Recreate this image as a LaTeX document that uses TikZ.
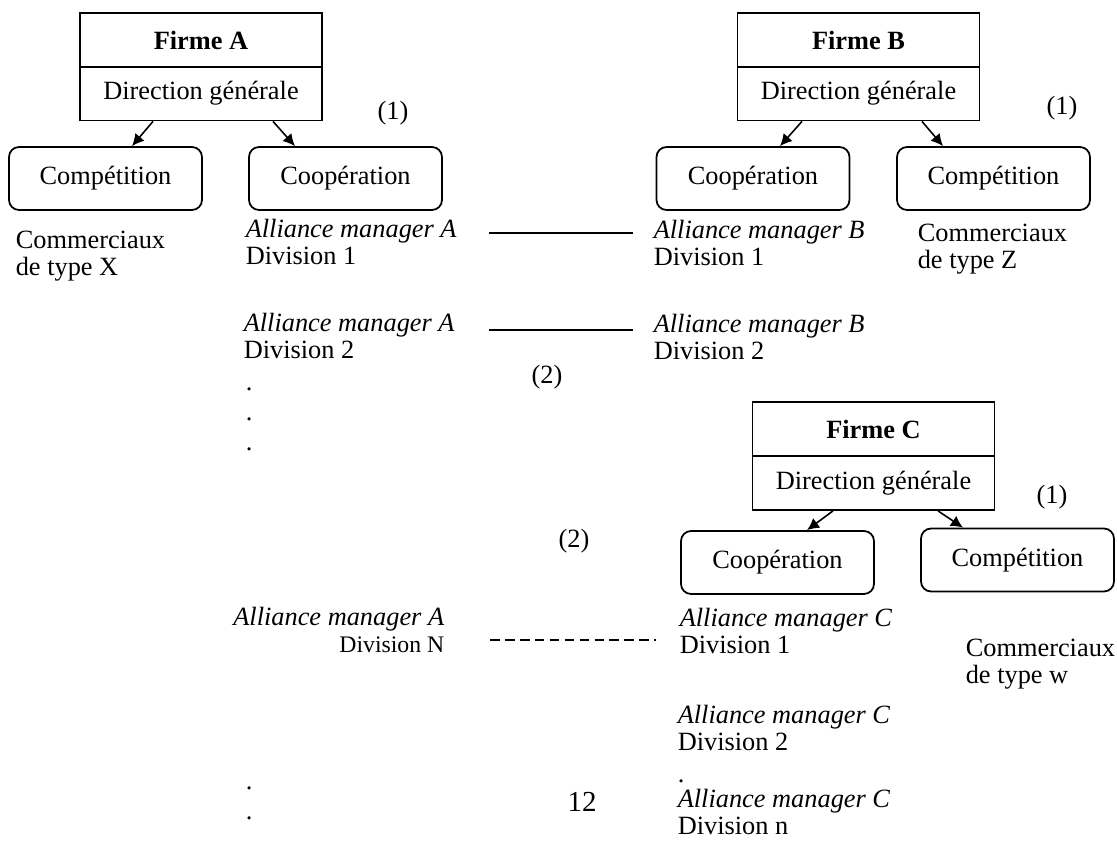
\documentclass[tikz,border=0pt]{standalone}
\usepackage{fontspec}
\setmainfont{Liberation Serif}
\usetikzlibrary{arrows.meta,calc}

\begin{document}
\begin{tikzpicture}[x=0.02cm, y=-0.02cm, font=\fontsize{15}{15.2}\selectfont, -{Latex[length=2.4mm,width=2.4mm]}, line width=0.9pt]
	\useasboundingbox[-] (0,0) rectangle (1117,845);
      \tikzstyle{firm} = [draw, rectangle, line width=1pt, minimum width=4.84cm, minimum height=1.08cm, inner sep=0pt, font=\fontsize{15}{15.2}\selectfont\bfseries]
      \tikzstyle{direction} = [draw, rectangle, line width=1pt, minimum width=4.84cm, minimum height=1.08cm, inner sep=0pt]
      \tikzstyle{choice} = [draw, rectangle, rounded corners=2mm, line width=1pt, minimum width=3.86cm, minimum height=1.26cm, inner sep=0pt]
      \tikzstyle{word} = [anchor=base west, inner sep=0pt, align=left]
      % Firme A
      \node (firmeA) at (201,40) [firm] {Firme A};
      \node (dirA) at (201,93.5) [direction] {Direction générale};
      \node (compA) at (105.5,178.5) [choice] {Compétition};
      \node (coopA) at (345.5,178.5) [choice] {Coopération};
      \draw ($(dirA.south)+(-48,0)$) -- ($(compA.north)+(26.5,0)$);
      \draw ($(dirA.south)+(72,0)$) -- ($(coopA.north)+(-50.5,0)$);
      \node (unA) at (393,113) {(1)};
      % Firme B
      \node (firmeB) at (858.5,40) [firm] {Firme B};
      \node (dirB) at (858.5,93.5) [direction] {Direction générale};
      \node (coopB) at (753,178.5) [choice] {Coopération};
      \node (compB) at (993.5,178.5) [choice] {Compétition};
      \draw ($(dirB.south)+(-56.5,0)$) -- ($(coopB.north)+(27,0)$);
      \draw ($(dirB.south)+(63.5,0)$) -- ($(compB.north)+(-50.5,0)$);
      \node (unB) at (1062,108) {(1)};
      % Firme C
      \node (firmeC) at (873.5,429) [firm] {Firme C};
      \node (dirC) at (873.5,483) [direction] {Direction générale};
      \node (coopC) at (777.5,562.5) [choice] {Coopération};
      \node (compC) at (1017.5,560) [choice] {Compétition};
      \draw ($(dirC.south)+(-40.5,0)$) -- ($(coopC.north)+(29.5,0)$);
      \draw ($(dirC.south)+(64.5,0)$) -- ($(compC.north)+(-54.5,0)$);
      \node (unC) at (1052,497) {(1)};
      % commerciaux (base = last line)
      \node (comX) at (15,275) [word] {Commerciaux\\de type X};
      \node (comZ) at (917,268) [word] {Commerciaux\\de type Z};
      \node (comW) at (965,683) [word] {Commerciaux\\de type w};
      % alliance managers
      \node (amA1) at (245,264) [word] {\textit{Alliance manager A}\\Division 1};
      \node (amA2) at (243,358) [word] {\textit{Alliance manager A}\\Division 2};
      \node (amAN) at (445,652) [anchor=base east, inner sep=0pt, align=right] {\textit{Alliance manager A}\\{\fontsize{13.5}{15.2}\selectfont Division N}};
      \node (amB1) at (653,265) [word] {\textit{Alliance manager B}\\Division 1};
      \node (amB2) at (653,359) [word] {\textit{Alliance manager B}\\Division 2};
      \node (amC1) at (679,653) [word] {\textit{Alliance manager C}\\Division 1};
      \node (amC2) at (677,750) [word] {\textit{Alliance manager C}\\Division 2};
      \node (amCn) at (677,834) [word] {\textit{Alliance manager C}\\Division n};
      \foreach \y [count=\i] in {390,420,450,789,819}
        \node (dotA\i) at (245,\y) [word] {.};
      \node (dotC) at (677,782) [word] {.};
      \node (deuxA) at (547,377) {(2)};
      \node (deuxB) at (574,541) {(2)};
      \node (page) at (582,811) [anchor=base, font=\fontsize{16.5}{18}\selectfont] {12};
      % links between divisions
      \coordinate (lA1) at (489,233);
      \coordinate (lB1) at (633,233);
      \coordinate (lA2) at (489,330);
      \coordinate (lB2) at (633,330);
      \coordinate (lAN) at (490,640);
      \coordinate (lCN) at (656,640);
      \draw[-] (lA1) -- (lB1);
      \draw[-] (lA2) -- (lB2);
      \draw[-, dashed, dash pattern=on 5.5pt off 3pt] (lAN) -- (lCN);
    \end{tikzpicture}
\end{document}
